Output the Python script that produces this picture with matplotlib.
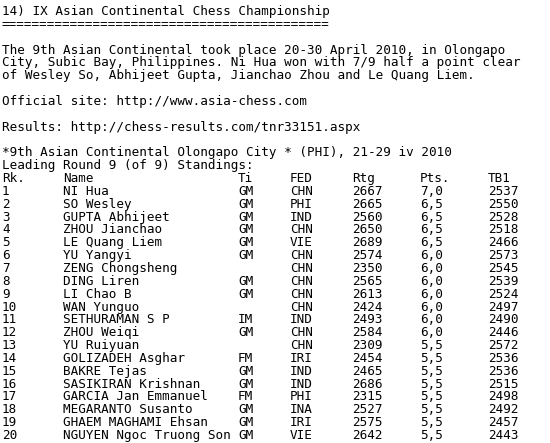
import matplotlib
matplotlib.use("Agg")
import matplotlib.pyplot as plt

# header text lines
header = [
    "14) IX Asian Continental Chess Championship",
    "=" * 43,
    "",
    "The 9th Asian Continental took place 20-30 April 2010, in Olongapo",
    "City, Subic Bay, Philippines. Ni Hua won with 7/9 half a point clear",
    "of Wesley So, Abhijeet Gupta, Jianchao Zhou and Le Quang Liem.",
    "",
    "Official site: http://www.asia-chess.com",
    "",
    "Results: http://chess-results.com/tnr33151.aspx",
    "",
    "*9th Asian Continental Olongapo City * (PHI), 21-29 iv 2010",
    "Leading Round 9 (of 9) Standings:",
]

col_heads = ["Rk.", "Name", "Ti", "FED", "Rtg", "Pts.", "TB1"]
ranks = [str(i) for i in range(1, 21)]
names = ["NI Hua", "SO Wesley", "GUPTA Abhijeet", "ZHOU Jianchao", "LE Quang Liem",
         "YU Yangyi", "ZENG Chongsheng", "DING Liren", "LI Chao B", "WAN Yunguo",
         "SETHURAMAN S P", "ZHOU Weiqi", "YU Ruiyuan", "GOLIZADEH Asghar", "BAKRE Tejas",
         "SASIKIRAN Krishnan", "GARCIA Jan Emmanuel", "MEGARANTO Susanto",
         "GHAEM MAGHAMI Ehsan", "NGUYEN Ngoc Truong Son"]
titles = ["GM", "GM", "GM", "GM", "GM", "GM", "", "GM", "GM", "", "IM", "GM", "",
          "FM", "GM", "GM", "FM", "GM", "GM", "GM"]
feds = ["CHN", "PHI", "IND", "CHN", "VIE", "CHN", "CHN", "CHN", "CHN", "CHN", "IND",
        "CHN", "CHN", "IRI", "IND", "IND", "PHI", "INA", "IRI", "VIE"]
ratings = [2667, 2665, 2560, 2650, 2689, 2574, 2350, 2565, 2613, 2424, 2493, 2584,
           2309, 2454, 2465, 2686, 2315, 2527, 2575, 2642]
points = ["7,0", "6,5", "6,5", "6,5", "6,5", "6,0", "6,0", "6,0", "6,0", "6,0", "6,0",
          "6,0", "5,5", "5,5", "5,5", "5,5", "5,5", "5,5", "5,5", "5,5"]
tb1 = [2537, 2550, 2528, 2518, 2466, 2573, 2545, 2539, 2524, 2497, 2490, 2446, 2572,
       2536, 2536, 2515, 2498, 2492, 2457, 2443]

W, H = 550, 443
fig = plt.figure(figsize=(W / 100, H / 100), dpi=100)
fig.patch.set_facecolor("white")
font = dict(family="DejaVu Sans Mono", size=9.1, color="black", va="baseline", ha="left")

top, pitch = 15, 12.85
def put(x, line, s):
    fig.text(x / W, 1 - (top + line * pitch) / H, s, **font)

for i, s in enumerate(header):
    put(2, i, s)

col_x = [2, 63, 238, 290, 352, 420, 488]
row0 = len(header)
for x, s in zip(col_x, col_heads):
    put(x, row0, s)
for r in range(len(ranks)):
    vals = [ranks[r], names[r], titles[r], feds[r], str(ratings[r]), points[r], str(tb1[r])]
    for x, s in zip(col_x, vals):
        put(x, row0 + 1 + r, s)

fig.savefig("out.png", dpi=100, facecolor="white")
